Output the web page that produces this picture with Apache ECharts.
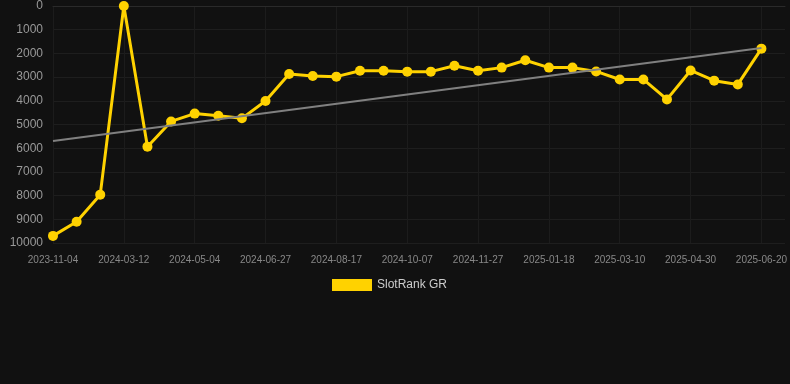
<!DOCTYPE html>
<html>
<head>
<meta charset="utf-8">
<script src="https://cdn.jsdelivr.net/npm/echarts@6/dist/echarts.min.js"></script>
<style>
  html, body { margin: 0; padding: 0; background: #111111; }
  #chart { width: 790px; height: 384px; }
</style>
</head>
<body>
<div id="chart"></div>
<script>
const dates = [
  '2023-11-04', '2023-12-18', '2024-01-31', '2024-03-12', '2024-03-29', '2024-04-16',
  '2024-05-04', '2024-05-22', '2024-06-09', '2024-06-27', '2024-07-14', '2024-07-31',
  '2024-08-17', '2024-09-03', '2024-09-20', '2024-10-07', '2024-10-24', '2024-11-10',
  '2024-11-27', '2024-12-14', '2024-12-31', '2025-01-18', '2025-02-04', '2025-02-21',
  '2025-03-10', '2025-03-27', '2025-04-13', '2025-04-30', '2025-05-17', '2025-06-03',
  '2025-06-20'
];
const ranks = [
  9700, 9100, 7960, 0, 5935, 4870, 4540, 4630, 4740, 4010, 2870,
  2950, 2980, 2730, 2730, 2770, 2770, 2520, 2730, 2600, 2290,
  2600, 2600, 2760, 3100, 3100, 3940, 2720, 3150, 3310, 1800
];
const trendStart = 5700;
const trendEnd = 1770;

const chart = echarts.init(document.getElementById('chart'));

const option = {
  backgroundColor: '#111111',
  animation: false,
  grid: { left: 53, right: 3, top: 6, bottom: 141 },
  legend: {
    bottom: 88,
    left: 327,
    data: ['SlotRank GR'],
    itemWidth: 40,
    itemHeight: 12,
    itemGap: 6,
    icon: 'rect',
    textStyle: { color: '#cccccc', fontSize: 12 }
  },
  xAxis: {
    type: 'category',
    boundaryGap: false,
    data: dates,
    max: dates.length,
    axisLine: { lineStyle: { color: '#2a2a2a' } },
    axisTick: { show: false },
    axisLabel: { color: '#888888', fontSize: 10, interval: 2, margin: 12 },
    splitLine: { show: true, interval: 2, lineStyle: { color: '#1c1c1c' } }
  },
  yAxis: {
    type: 'value',
    inverse: true,
    min: 0,
    max: 10000,
    interval: 1000,
    axisLine: { show: false },
    axisTick: { show: false },
    axisLabel: {
      color: '#999999',
      fontSize: 12,
      margin: 10,
      formatter: (value) => String(value)
    },
    splitLine: { lineStyle: { color: '#1e1e1e' } }
  },
  series: [
    {
      name: 'SlotRank GR',
      type: 'line',
      data: ranks,
      symbol: 'circle',
      symbolSize: 10,
      itemStyle: { color: '#ffd200' },
      lineStyle: { color: '#ffd200', width: 3 },
      markLine: {
        silent: true,
        symbol: 'none',
        label: { show: false },
        lineStyle: { color: '#808080', width: 2, type: 'solid' },
        data: [[
          { coord: [0, trendStart] },
          { coord: [dates.length - 1, trendEnd] }
        ]]
      },
      z: 3
    }
  ]
};

chart.setOption(option);
</script>
</body>
</html>
